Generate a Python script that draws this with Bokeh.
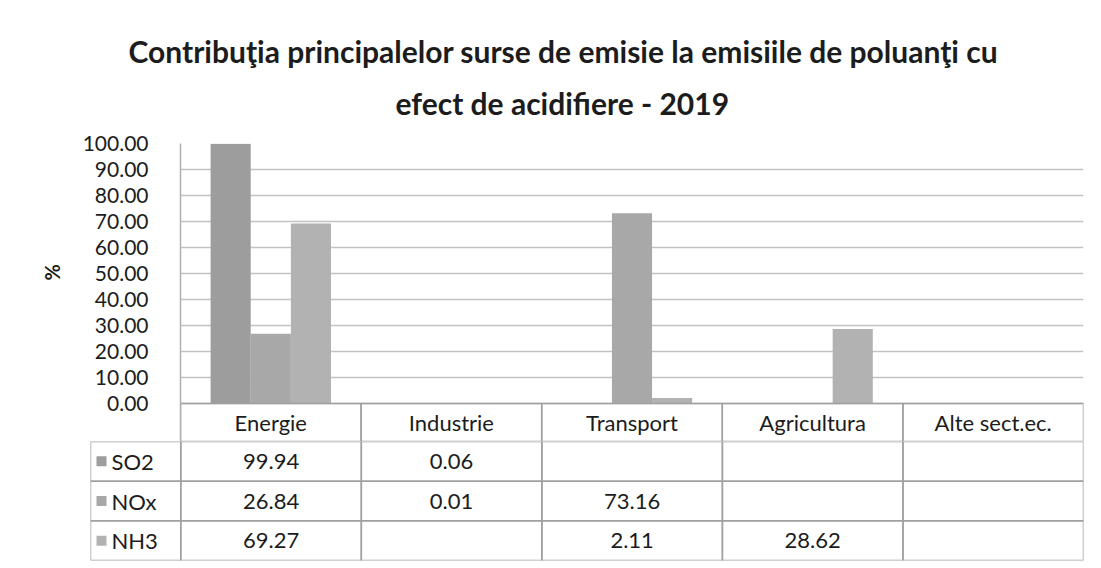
import math
from bokeh.plotting import figure
from bokeh.models import (FactorRange, Range1d, FixedTicker, NumeralTickFormatter,
                          ColumnDataSource, Title)
from bokeh.embed import file_html
from bokeh.resources import INLINE
from bokeh.core.properties import value
from bokeh.transform import dodge

# ---------------- data ----------------
categories = ["Energie", "Industrie", "Transport", "Agricultura", "Alte sect.ec."]
series = ["SO2", "NOx", "NH3"]
so2 = [99.94, 0.06, None, None, None]
nox = [26.84, 0.01, 73.16, None, None]
nh3 = [69.27, None, 2.11, 28.62, None]
y_ticks = [0, 10, 20, 30, 40, 50, 60, 70, 80, 90, 100]
title_line1 = "Contribuţia principalelor surse de emisie la emisiile de poluanţi cu"
title_line2 = "efect de acidifiere - 2019"
y_label = "%"

colors = ["#9d9d9d", "#a8a8a8", "#b2b2b2"]
FONT = "Lato"
TXT = "#1c1c1c"
LINE = "#a0a0a0"

values = {"SO2": so2, "NOx": nox, "NH3": nh3}

# layout constants (pixels)
W = 1093
FRAME_L, FRAME_R = 180, 1083
FRAME_T, ZERO_Y, HDR_B = 143, 403, 441
TABLE_B = 560
px_per_unit = (ZERO_Y - FRAME_T) / 100.0
hdr_units = (HDR_B - ZERO_Y) / px_per_unit

# ---------------- chart ----------------
bar_w = 1.0 / 4.5  # Excel gap width 150 %
p = figure(width=W, height=HDR_B,
           x_range=FactorRange(*categories),
           y_range=Range1d(-hdr_units, 100),
           x_axis_location=None,
           output_backend="svg", toolbar_location=None,
           min_border_left=FRAME_L, min_border_right=W - FRAME_R,
           min_border_bottom=0, min_border_top=FRAME_T)
p.title = None
p.add_layout(Title(text=title_line2, align="left", offset=215,
                   text_font=FONT, text_font_size="30px", text_font_style="bold",
                   text_color=TXT, standoff=45), "above")
p.add_layout(Title(text=title_line1, align="left", offset=-52,
                   text_font=FONT, text_font_size="30px", text_font_style="bold",
                   text_color=TXT, standoff=-16), "above")

for k, s in enumerate(series):
    tops = [float("nan") if v is None else v for v in values[s]]
    src = ColumnDataSource(dict(cat=categories, top=tops))
    p.vbar(x=dodge("cat", (k - 1) * bar_w, range=p.x_range), top="top",
           width=bar_w, source=src, line_color=None, fill_color=colors[k])

# header row of the data table (category axis)
hsrc = ColumnDataSource(dict(cat=categories, y=[-hdr_units / 2] * len(categories)))
p.rect(x="cat", y="y", width=1, height=hdr_units, source=hsrc, fill_color=None,
       line_color=LINE, line_width=1.5)
p.text(x="cat", y="y", text="cat", source=hsrc, text_align="center",
       text_baseline="middle", text_font=value(FONT), text_font_size="22px",
       text_color=TXT)

p.outline_line_color = None
p.xgrid.visible = False
p.ygrid.ticker = FixedTicker(ticks=y_ticks)
p.ygrid.grid_line_color = "#c2c2c2"
p.ygrid.grid_line_width = 1.5
p.yaxis.ticker = FixedTicker(ticks=y_ticks)
p.yaxis.formatter = NumeralTickFormatter(format="0.00")
p.yaxis.major_label_text_font = FONT
p.yaxis.major_label_text_font_size = "21px"
p.yaxis.major_label_text_color = TXT
p.yaxis.major_label_standoff = 26
p.yaxis.axis_line_color = "#b0b0b0"
p.yaxis.axis_line_width = 1.5
p.yaxis.major_tick_line_color = None
p.yaxis.minor_tick_line_color = None

# y-axis title "%", placed on the left, centred on the value scale (0-100)
p.add_layout(Title(text=y_label, align="left", offset=(HDR_B - 272) - 8,
                   text_font=FONT, text_font_size="20px", text_font_style="bold",
                   text_color=TXT, standoff=31), "left")

# ---------------- data table rows ----------------
LEG_L = 90
rows = ["NH3", "NOx", "SO2"]
t = figure(width=W, height=TABLE_B - HDR_B + 3,
           x_range=Range1d(-0.5, len(categories)),
           y_range=FactorRange(factors=rows),
           x_axis_location=None, y_axis_location=None,
           output_backend="svg", toolbar_location=None,
           min_border_left=LEG_L, min_border_right=W - FRAME_R,
           min_border_top=0, min_border_bottom=3)
t.outline_line_color = None
t.xgrid.visible = False
t.ygrid.visible = False

cell_x, cell_y, cell_t = [], [], []
for s in series:
    for i, v in enumerate(values[s]):
        cell_x.append(i + 0.5)
        cell_y.append(s)
        cell_t.append("" if v is None else f"{v:.2f}")
cells = ColumnDataSource(dict(x=cell_x, y=cell_y, text=cell_t))
t.rect(x="x", y="y", width=1, height=1, source=cells, fill_color=None,
       line_color=LINE, line_width=1.5)
t.text(x="x", y="y", text="text", source=cells, text_align="center",
       text_baseline="middle", text_font=value(FONT), text_font_size="22px",
       text_color=TXT)

unit_px = (FRAME_R - LEG_L) / 5.5
key_x = -0.5 + 11 / unit_px
leg = ColumnDataSource(dict(x=[-0.25] * 3, kx=[key_x] * 3, xl=[-0.5] * 3,
                            y=series, text=series, color=colors))
t.rect(x="x", y="y", width=0.5, height=1, source=leg, fill_color=None,
       line_color=LINE, line_width=1.5)
t.scatter(x="kx", y="y", marker="square", size=10, source=leg, fill_color="color",
          line_color=None)
t.text(x="xl", y="y", text="text", source=leg, text_align="left",
       text_baseline="middle", x_offset=21, text_font=value(FONT),
       text_font_size="22px", text_color=TXT)

open("out.html", "w").write(file_html([p, t], INLINE))
